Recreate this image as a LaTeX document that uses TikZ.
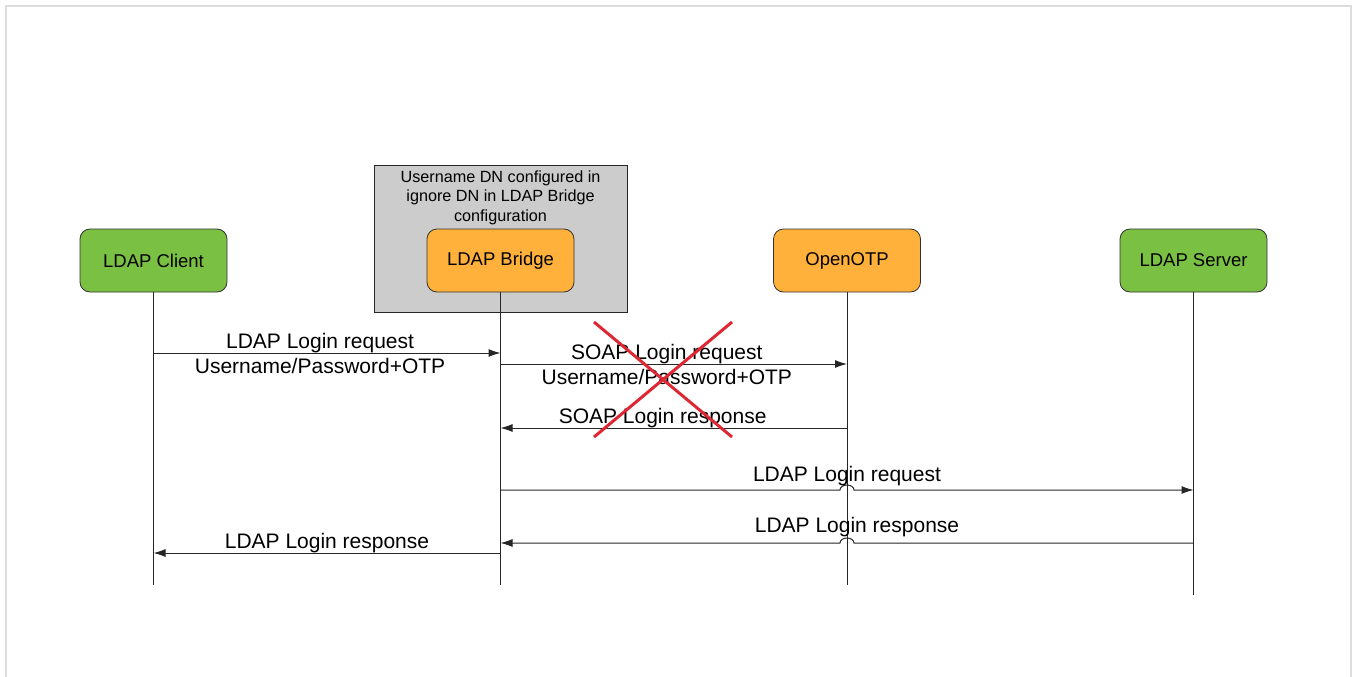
\documentclass[tikz,border=0pt]{standalone}
\usepackage{fontspec}
\setmainfont{Liberation Sans}
\usetikzlibrary{arrows.meta,calc}
\definecolor{actorgreen}{HTML}{7AC143}
\definecolor{actororange}{HTML}{FFB13B}
\definecolor{notegray}{HTML}{CCCCCC}
\definecolor{framegray}{HTML}{DCDCDC}
\definecolor{crossred}{HTML}{DD2834}

\begin{document}
\begin{tikzpicture}[x=1pt,y=-1pt,
  actor/.style={draw=black!80, line width=0.8pt, rounded corners=10pt,
    minimum width=147pt, minimum height=63pt, font=\fontsize{18.5}{22}\selectfont},
  notebox/.style={draw=black!85, line width=0.8pt, fill=notegray,
    minimum width=253pt, minimum height=147pt},
  notetext/.style={align=center, anchor=base, inner sep=0pt,
    font=\fontsize{16.2}{19.5}\selectfont},
  life/.style={draw=black!85, line width=1pt},
  msg/.style={draw=black!85, line width=1pt, -{Latex[length=12pt,width=8pt]}},
  msglab/.style={anchor=base, inner sep=0pt, font=\fontsize{21}{25}\selectfont},
  cross/.style={draw=crossred, line width=3pt},
  frame/.style={draw=framegray, line width=2pt}]
\useasboundingbox (0,0) rectangle (1358,677);
\draw[frame] (6,690) |- (1351,6) -- (1351,690);

\node[notebox] (ignore) at (500.5,238.5) {};
\node[notetext] (ignorenote) at (500.5,221) {Username DN configured in\\ignore DN in LDAP Bridge\\configuration};

\node[actor, fill=actorgreen] (client) at (153.5,260.5) {LDAP Client};
\node[actor, fill=actororange] (bridge) at (500.5,260.5) {LDAP Bridge};
\node[actor, fill=actororange] (otp) at (847,260.5) {OpenOTP};
\node[actor, fill=actorgreen] (server) at (1193.5,260.5) {LDAP Server};

\draw[life] (client.south) -- (client.south |- 0,585);
\draw[life] (bridge.south) -- (bridge.south |- 0,585);
\draw[life] (otp.south) -- (otp.south |- 0,585);
\draw[life] (server.south) -- (server.south |- 0,595);

\draw[msg] (client |- 0,353) --
  node[msglab, pos=0.48, yshift=5pt] (ldapreq) {LDAP Login request}
  node[msglab, pos=0.48, yshift=-20pt] (ldapcred) {Username/Password+OTP} (bridge |- 0,353);
\draw[msg] (bridge |- 0,364) --
  node[msglab, pos=0.48, yshift=5pt] (soapreq) {SOAP Login request}
  node[msglab, pos=0.48, yshift=-20pt] (soapcred) {Username/Password+OTP} (otp |- 0,364);
\draw[msg] (otp |- 0,428) --
  node[msglab, pos=0.532, yshift=5pt] (soapresp) {SOAP Login response} (bridge |- 0,428);

\draw[cross] (594,322) -- (732,437);
\draw[cross] (732,322) -- (594,437);

\draw[msg] (bridge |- 0,490) -- ($(otp |- 0,490)+(-7,0)$)
  arc[start angle=180, end angle=360, x radius=7, y radius=5] -- (server |- 0,490);
\node[msglab] (ldapreqfwd) at (otp |- 0,481) {LDAP Login request};
\draw[msg] (server |- 0,543) -- ($(otp |- 0,543)+(7,0)$)
  arc[start angle=0, end angle=-180, x radius=7, y radius=5] -- (bridge |- 0,543);
\node[msglab] (ldaprespfwd) at (857,532) {LDAP Login response};
\draw[msg] (bridge |- 0,553) --
  node[msglab, midway, yshift=5pt] (ldapresp) {LDAP Login response} (client |- 0,553);
\end{tikzpicture}
\end{document}
